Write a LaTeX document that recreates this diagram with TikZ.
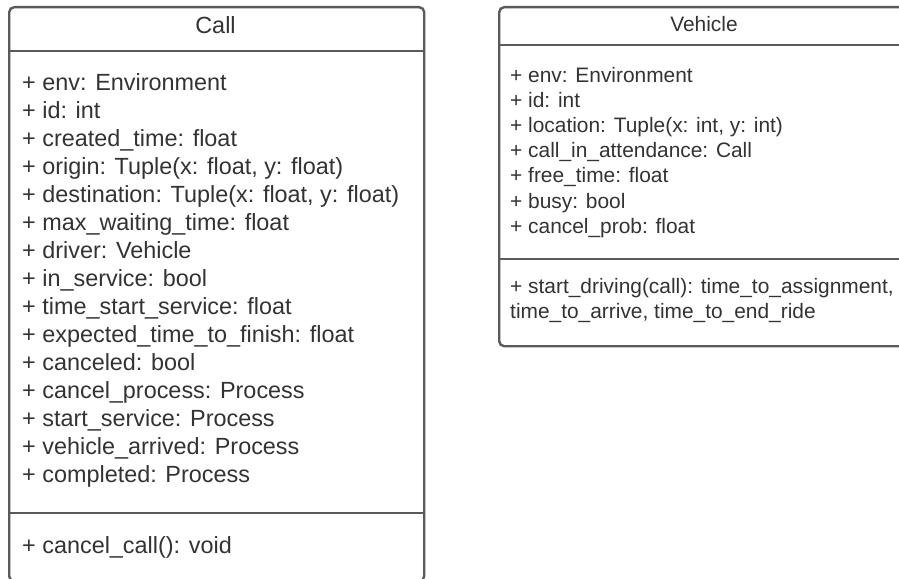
\documentclass[tikz,border=0pt]{standalone}
\usepackage{fontspec}
\setmainfont{Liberation Sans}
\definecolor{boxline}{HTML}{5A5A5A}
\definecolor{txt}{HTML}{333333}
\tikzset{
  classbox/.style={draw=boxline, line width=2.4pt, rounded corners=5pt, fill=white, inner sep=0pt, anchor=north west},
  sepline/.style={draw=boxline, line width=2.4pt},
  calltxt/.style={anchor=base west, inner sep=0pt, text=txt, font=\fontsize{23.4}{28}\selectfont},
  calltitle/.style={anchor=base, inner sep=0pt, text=txt, font=\fontsize{23.4}{28}\selectfont},
  vehtxt/.style={anchor=base west, inner sep=0pt, text=txt, font=\fontsize{20.9}{25}\selectfont},
  vehtitle/.style={anchor=base, inner sep=0pt, text=txt, font=\fontsize{20.9}{25}\selectfont},
}
\begin{document}
\begin{tikzpicture}[x=1pt,y=-1pt]
\useasboundingbox (0,0) rectangle (899,578);
\begin{scope}
\clip (0,0) rectangle (899,578);
% Call class
\node[classbox, minimum width=415pt, minimum height=574pt] (call) at (8,6) {};
\draw[sepline] (8,51) -- (423,51);
\draw[sepline] (8,513) -- (423,513);
\node[calltitle] (calltitle) at (215.5,34) {Call};
\foreach \t [count=\i from 0] in {
  {+ env: Environment},
  {+ id: int},
  {+ created\_time: float},
  {+ origin: Tuple(x: float, y: float)},
  {+ destination: Tuple(x: float, y: float)},
  {+ max\_waiting\_time: float},
  {+ driver: Vehicle},
  {+ in\_service: bool},
  {+ time\_start\_service: float},
  {+ expected\_time\_to\_finish: float},
  {+ canceled: bool},
  {+ cancel\_process: Process},
  {+ start\_service: Process},
  {+ vehicle\_arrived: Process},
  {+ completed: Process}}
  \node[calltxt] (callattr\i) at (22,{90+28*\i}) {\t};
\node[calltxt] (callm0) at (22,553) {+ cancel\_call(): void};
% Vehicle class
\node[classbox, minimum width=410pt, minimum height=339pt] (veh) at (498,6) {};
\draw[sepline] (498,45) -- (905,45);
\draw[sepline] (498,259) -- (905,259);
\node[vehtitle] (vehtitle) at (704,32) {Vehicle};
\foreach \t [count=\i from 0] in {
  {+ env: Environment},
  {+ id: int},
  {+ location: Tuple(x: int, y: int)},
  {+ call\_in\_attendance: Call},
  {+ free\_time: float},
  {+ busy: bool},
  {+ cancel\_prob: float}}
  \node[vehtxt] (vehattr\i) at (510,{82+25.2*\i}) {\t};
\node[vehtxt] (vehm0) at (510,293) {+ start\_driving(call): time\_to\_assignment,};
\node[vehtxt] (vehm1) at (510,318) {time\_to\_arrive, time\_to\_end\_ride};
\end{scope}
\end{tikzpicture}
\end{document}
